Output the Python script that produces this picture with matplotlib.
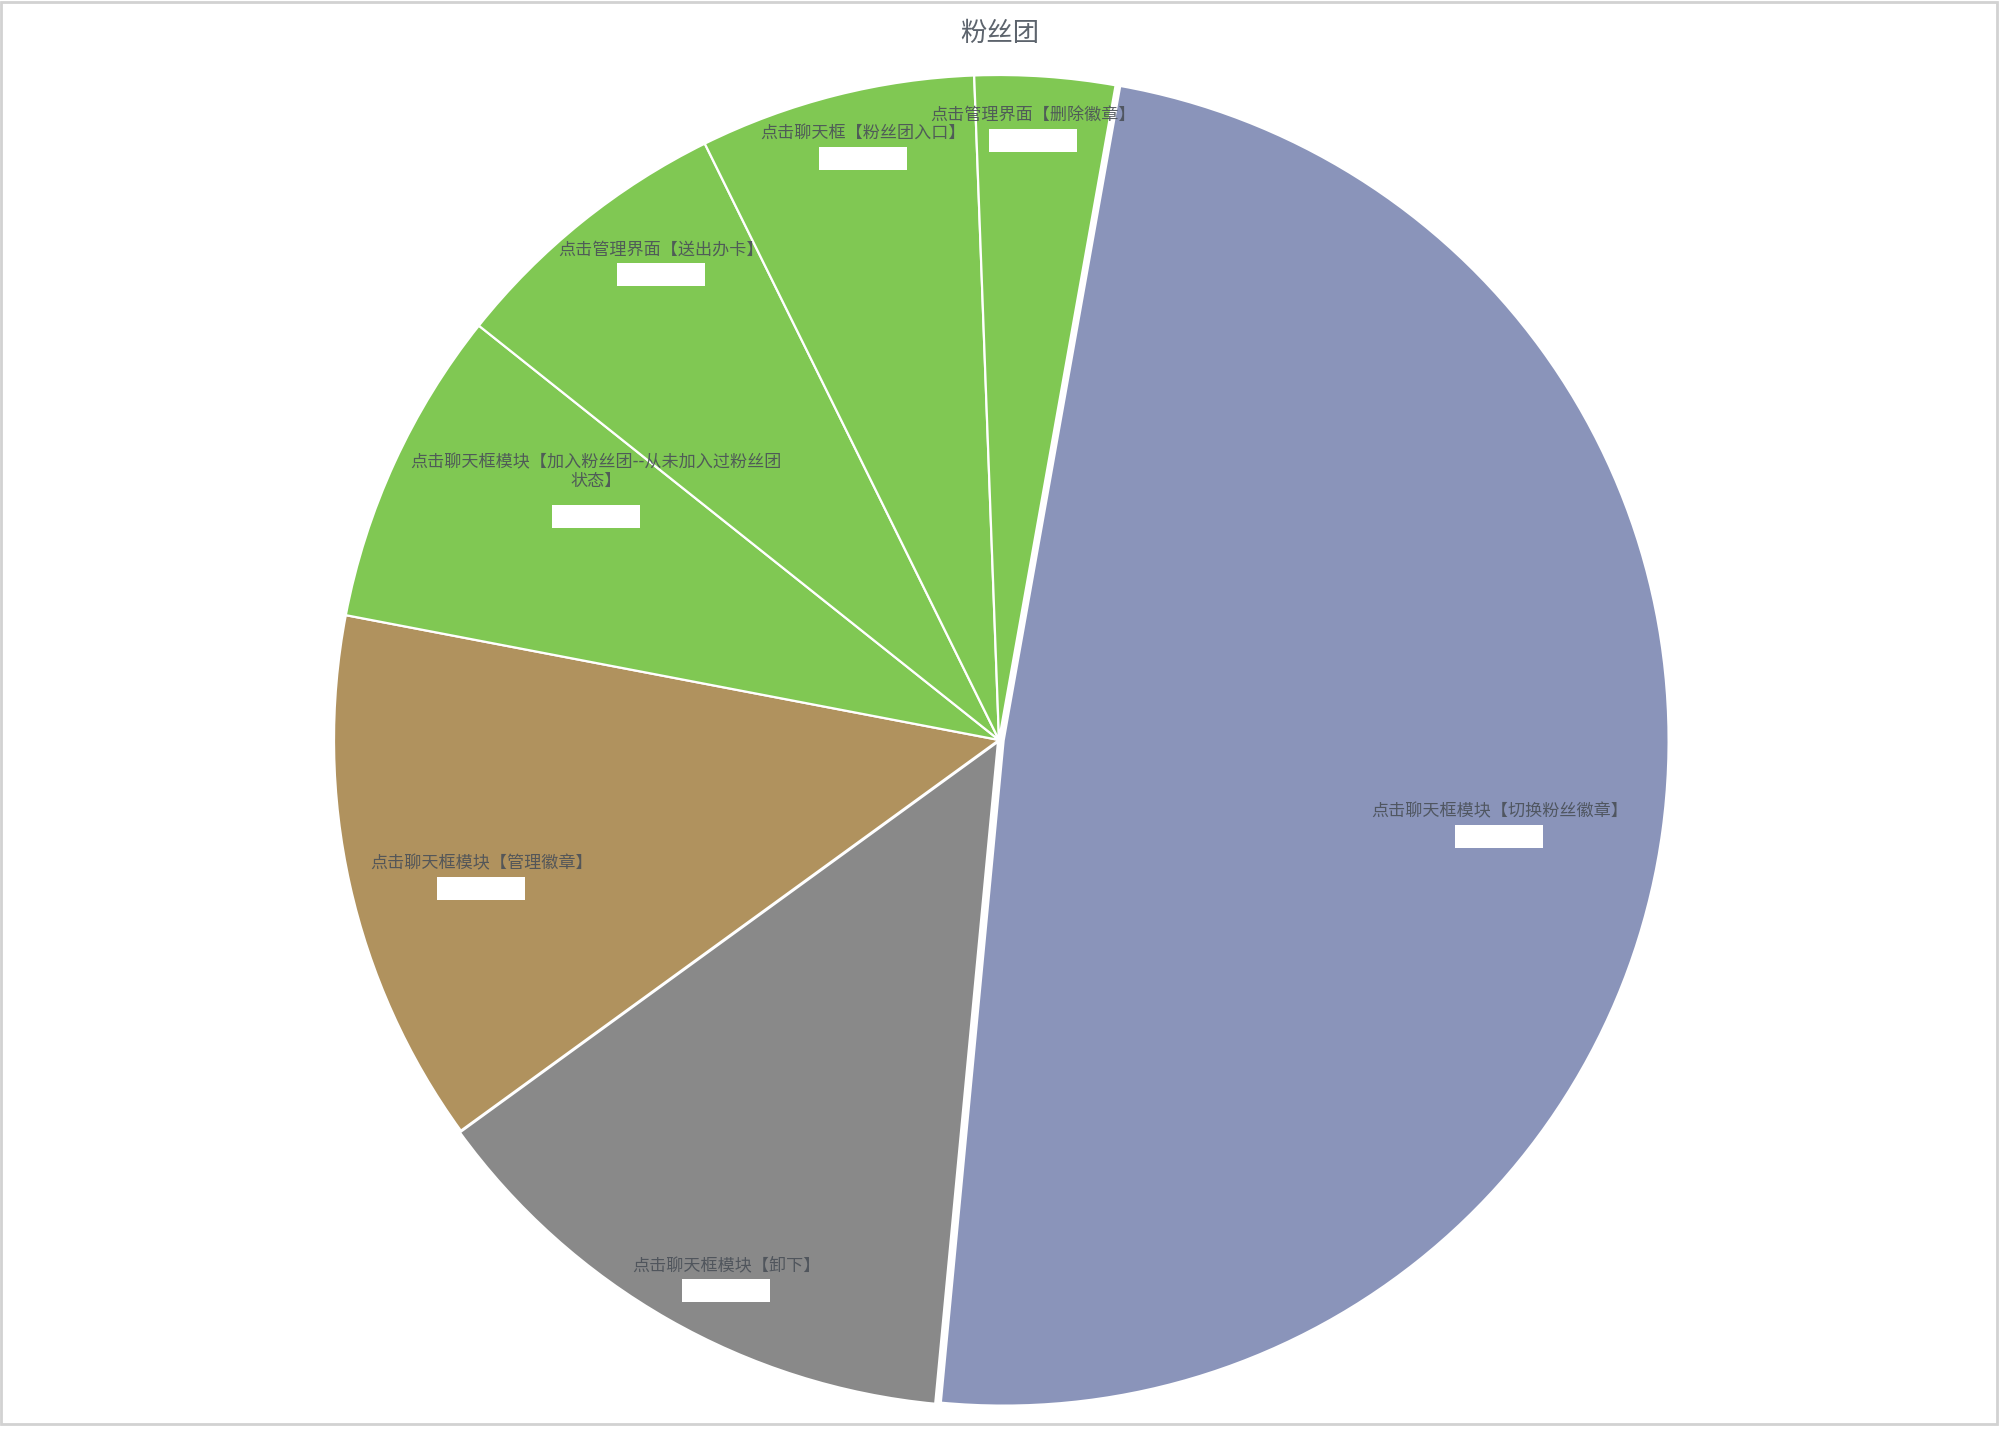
import textwrap
import numpy as np
import matplotlib
matplotlib.use('Agg')
import matplotlib.pyplot as plt
from matplotlib.patches import Rectangle

plt.rcParams['font.family'] = ['Noto Sans CJK SC', 'DejaVu Sans']

title = "粉丝团"
names = ["点击聊天框模块【切换粉丝徽章】",
         "点击聊天框模块【卸下】",
         "点击聊天框模块【管理徽章】",
         "点击聊天框模块【加入粉丝团--从未加入过粉丝团状态】",
         "点击管理界面【送出办卡】",
         "点击聊天框【粉丝团入口】",
         "点击管理界面【删除徽章】"]
values = [48.7, 13.5, 13.0, 7.7, 7.0, 6.7, 3.4]
colors = ['#8a94ba', '#898989', '#b0925e', '#80c853', '#80c853', '#80c853', '#80c853']
explode = [0.007, 0.003, 0.0, 0.0, 0.0, 0.0, 0.0]

# label placement (fraction of radius, angle nudge in degrees)
lab_r = [0.76, 0.89, 0.80, 0.72, 0.895, 0.935, 0.94]
lab_da = [-0.4, 2.3, 0.8, -8.0, -4.3, -1.6, 0.9]

W, H = 2000, 1440
cx, cy, R = 999, 740, 665

fig = plt.figure(figsize=(W / 100, H / 100), dpi=100)
fig.patch.set_facecolor('white')
ax = fig.add_axes([0, 0, 1, 1])

wedges, _ = ax.pie(values, colors=colors, explode=explode, radius=1.0,
                   startangle=79.9, counterclock=False,
                   wedgeprops=dict(edgecolor='white', linewidth=1.6))
# pie() resets the limits, so set them afterwards
ax.set_xlim(-cx / R, (W - cx) / R)
ax.set_ylim(-(H - cy) / R, cy / R)
ax.set_aspect('auto')
ax.axis('off')

px = 1.0 / R
for w, name, v, r, da in zip(wedges, names, values, lab_r, lab_da):
    mid = np.deg2rad((w.theta1 + w.theta2) / 2 + da)
    x, y = r * np.cos(mid), r * np.sin(mid)
    txt = textwrap.fill(name, 23, break_on_hyphens=False)
    nlines = txt.count("\n") + 1
    ax.text(x, y + (nlines - 1) * 10 * px, txt, ha='center', va='center',
            fontsize=12.3, color='#4a5058', alpha=0.9, linespacing=1.0)
    by = y - (nlines - 1) * 10 * px - 25 * px
    ax.add_patch(Rectangle((x - 44 * px, by - 11.5 * px), 88 * px, 23 * px,
                           facecolor='white', edgecolor='none', zorder=5))
    ax.text(x, by, f"{v:.1f}%", ha='center', va='center', fontsize=10,
            color='white', zorder=6)

fig.text(0.5, 1 - 33 / H, title, ha='center', va='center', fontsize=19,
         color='#5d646d')

fig.patches.append(Rectangle((1 / W, 16 / H), 1 - 4 / W, 1 - 18 / H,
                             transform=fig.transFigure, fill=False,
                             edgecolor='#d2d2d2', linewidth=2))

fig.savefig('out.png', dpi=100)
